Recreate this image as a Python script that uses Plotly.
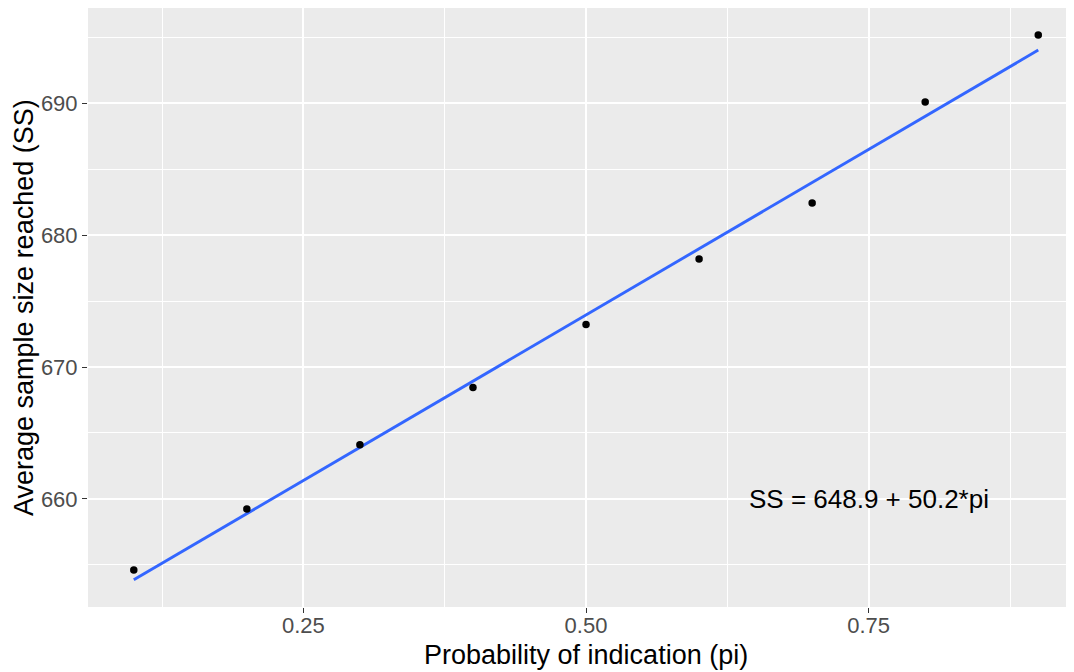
import numpy as np
import plotly.graph_objects as go

# Data
pi_values = [0.1, 0.2, 0.3, 0.4, 0.5, 0.6, 0.7, 0.8, 0.9]
ss_values = [654.6, 659.24, 664.11, 668.45, 673.22, 678.2, 682.45, 690.1, 695.18]
x_ticks = [0.25, 0.50, 0.75]
x_tick_labels = ["0.25", "0.50", "0.75"]
x_minor = [0.125, 0.375, 0.625, 0.875]
y_ticks = [660, 670, 680, 690]
y_tick_labels = ["660", "670", "680", "690"]
y_minor = [655, 665, 675, 685, 695]
equation_text = "SS = 648.9 + 50.2*pi"
x_title = "Probability of indication (pi)"
y_title = "Average sample size reached (SS)"

# Linear fit (as geom_smooth(method='lm'))
slope, intercept = np.polyfit(pi_values, ss_values, 1)
fit_x = np.linspace(min(pi_values), max(pi_values), 80)
fit_y = intercept + slope * fit_x

FONT = "Liberation Sans, Arial, sans-serif"

# The page body adds an 8px offset, so the figure is 8px smaller
W, H = 1066, 664
ML, MR, MT, MB = 80, 0, 0, 65
plot_w = W - ML - MR
plot_h = H - MT - MB

fig = go.Figure()
fig.add_trace(go.Scatter(
    x=fit_x, y=fit_y, mode="lines",
    line=dict(color="#3366FF", width=2.9),
    hoverinfo="skip", showlegend=False,
))
fig.add_trace(go.Scatter(
    x=pi_values, y=ss_values, mode="markers",
    marker=dict(color="black", size=7.5),
    showlegend=False,
))

# equation label
fig.add_annotation(
    x=0.75, y=660, text=equation_text, showarrow=False,
    font=dict(family=FONT, size=26, color="black"),
    xanchor="center", yanchor="middle",
)
# axis titles
fig.add_annotation(
    xref="paper", yref="paper", x=(585.9 - 8 - ML) / plot_w,
    y=-(655.5 - 607.3) / plot_h,
    text=x_title, showarrow=False,
    font=dict(family=FONT, size=27, color="black"),
    xanchor="center", yanchor="middle",
)
fig.add_annotation(
    xref="paper", yref="paper", x=(23.5 - 8 - ML) / plot_w, y=0.5,
    text=y_title, showarrow=False, textangle=-90,
    font=dict(family=FONT, size=27, color="black"),
    xanchor="center", yanchor="middle",
)

fig.update_layout(
    width=W, height=H,
    margin=dict(l=ML, r=MR, t=MT, b=MB),
    paper_bgcolor="white",
    plot_bgcolor="#EBEBEB",
    font=dict(family=FONT),
    xaxis=dict(
        range=[0.0595, 0.9316],
        tickvals=x_ticks, ticktext=x_tick_labels,
        showgrid=True, gridcolor="white", gridwidth=1.8,
        zeroline=False, showline=False, automargin=False,
        ticks="outside", ticklen=5, tickwidth=1.3, tickcolor="#333333",
        tickfont=dict(family=FONT, size=22, color="#4D4D4D"),
        minor=dict(tickvals=x_minor, showgrid=True,
                   gridcolor="white", gridwidth=0.9, ticks=""),
        ticklabelstandoff=-6,
    ),
    yaxis=dict(
        range=[651.8, 697.23],
        tickvals=y_ticks, ticktext=y_tick_labels,
        showgrid=True, gridcolor="white", gridwidth=1.8,
        zeroline=False, showline=False, automargin=False,
        ticks="outside", ticklen=5, tickwidth=1.3, tickcolor="#333333",
        tickfont=dict(family=FONT, size=22, color="#4D4D4D"),
        minor=dict(tickvals=y_minor, showgrid=True,
                   gridcolor="white", gridwidth=0.9, ticks=""),
        ticklabelstandoff=0,
    ),
)

fig.write_html("out.html")
